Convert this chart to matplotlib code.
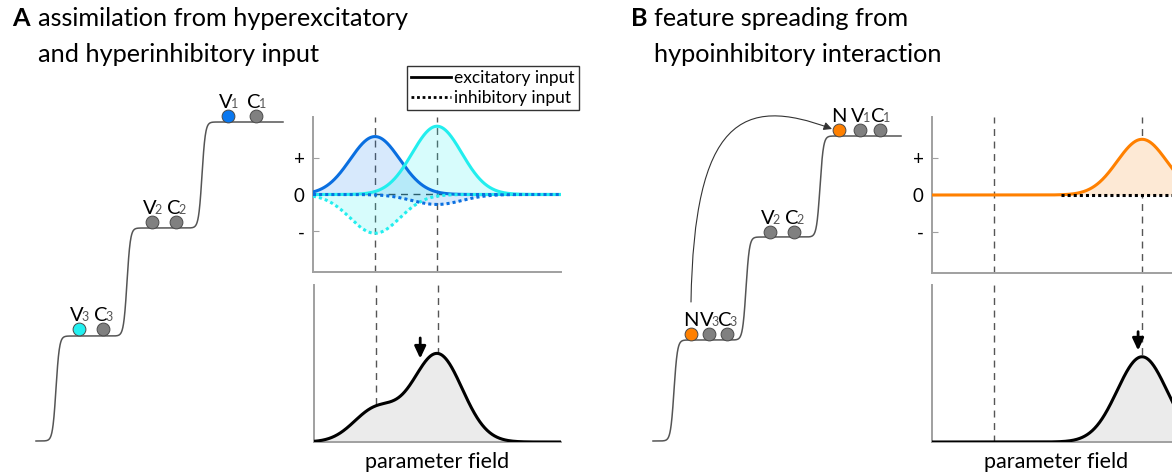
import numpy as np
import matplotlib

matplotlib.use("Agg")
import matplotlib.pyplot as plt
from matplotlib.lines import Line2D
from matplotlib.path import Path
from matplotlib.patches import FancyArrowPatch

plt.rcParams["font.family"] = ["Lato", "DejaVu Sans"]

W, H = 1172, 473

# ---- schematic data -------------------------------------------------------
# staircases (figure pixel units): start/end x, rise centres, plateau levels
stairA_x = [36, 283]
stairA_rise = [56, 127, 202]
stairA_level = [441, 336, 228, 122]
stairB_x = [653, 901]
stairB_rise = [674, 746, 820]
stairB_level = [441, 340, 237, 136]

# balls sitting on the plateaus: (x, y, colour, letter, subscript)
ballsA = [
    (228, 116, "#0a78f0", "V", "1"), (256, 116, "#808080", "C", "1"),
    (152, 222, "#808080", "V", "2"), (176, 222, "#808080", "C", "2"),
    (79, 329, "#22f0f0", "V", "3"), (103, 329, "#808080", "C", "3"),
]
ballsB = [
    (839, 130, "#ff8000", "N", ""), (860, 130, "#808080", "V", "1"),
    (880, 130, "#808080", "C", "1"),
    (770, 232, "#808080", "V", "2"), (794, 232, "#808080", "C", "2"),
    (691, 334, "#ff8000", "N", ""), (709, 334, "#808080", "V", "3"),
    (727, 334, "#808080", "C", "3"),
]

# parameter-field inputs (x in 0..1)
markA = [0.25, 0.5]
excA_centre = [0.25, 0.5]
excA_amp = [1.57, 1.85]
inhA_centre = [0.5, 0.25]
inhA_amp = [-0.27, -1.05]
outA_centre = [0.25, 0.5]
outA_amp = [0.36, 0.98]
outA_width = [0.09, 0.1]
arrowA = (0.43, 1.16, 0.93)

markB = [0.25, 0.847]
excB_centre = 0.847
excB_amp = 1.5
outB_centre = 0.847
outB_amp = 0.95
arrowB = (0.831, 1.23, 1.02)
sigma = 0.1

col_blue, fill_blue = "#0a6fe0", "#0a78f0"
col_cyan, fill_cyan = "#22eeee", "#22f0f0"
col_orange, fill_orange = "#ff8000", "#fde9d5"

fig = plt.figure(figsize=(W / 100, H / 100), dpi=100)


def px_axes(left, top, right, bottom, **kw):
    return fig.add_axes([left / W, 1 - bottom / H, (right - left) / W, (bottom - top) / H], **kw)


def gauss(x, c, a, s=sigma):
    return a * np.exp(-(x - c) ** 2 / (2 * s ** 2))


# ---- overlay for staircases ----------------------------------------------
ov = px_axes(0, 0, W, H, zorder=0)
ov.set_xlim(0, W)
ov.set_ylim(H, 0)
ov.axis("off")


def staircase(xr, rises, levels):
    xs = np.linspace(xr[0], xr[1], 1500)
    ys = np.full_like(xs, levels[0], dtype=float)
    for c, lo, hi in zip(rises, levels[:-1], levels[1:]):
        ys += (hi - lo) / (1 + np.exp(-(xs - c) / 1.7))
    ov.plot(xs, ys, color="#555555", lw=1.1)


def balls(items):
    for x, y, c, letter, sub in items:
        ov.scatter([x], [y], s=85, color=c, edgecolor="#4a4a4a", lw=0.7, zorder=3)
        dx = 0 if sub == "" else -2.5
        ov.text(x + dx, y - 8, letter, fontsize=14.5, ha="center", va="baseline", color="black")
        if sub:
            ov.text(x + 6.5, y - 8, sub, fontsize=9, ha="center", va="baseline", color="#555555")


staircase(stairA_x, stairA_rise, stairA_level)
staircase(stairB_x, stairB_rise, stairB_level)
balls(ballsA)
balls(ballsB)

jump = Path([(691, 302), (694, 120), (742, 95), (832, 129)],
            [Path.MOVETO, Path.CURVE4, Path.CURVE4, Path.CURVE4])
ov.add_patch(FancyArrowPatch(path=jump, arrowstyle="-|>", mutation_scale=12,
                             lw=0.8, color="#333333", zorder=4))

# ---- titles ---------------------------------------------------------------
tfs = 18.2
fig.text(12 / W, 1 - 19 / H, "A", fontsize=tfs, fontweight="bold", va="center")
fig.text(38 / W, 1 - 19 / H, "assimilation from hyperexcitatory", fontsize=tfs, va="center")
fig.text(38 / W, 1 - 54 / H, "and hyperinhibitory input", fontsize=tfs, va="center")
fig.text(631 / W, 1 - 19 / H, "B", fontsize=tfs, fontweight="bold", va="center")
fig.text(654 / W, 1 - 19 / H, "feature spreading from", fontsize=tfs, va="center")
fig.text(654 / W, 1 - 54 / H, "hypoinhibitory interaction", fontsize=tfs, va="center")


def style(ax, ticks):
    for s in ["top", "right"]:
        ax.spines[s].set_visible(False)
    for s in ["left", "bottom"]:
        ax.spines[s].set_color("#a0a0a0")
        ax.spines[s].set_linewidth(1.4)
    ax.set_xlim(0, 1)
    ax.set_xticks([])
    if ticks:
        ax.set_ylim(-2.1, 2.1)
        ax.set_yticks([-1, 0, 1])
        ax.set_yticklabels(["-", "0", "+"])
        ax.tick_params(axis="y", direction="in", length=4, color="#a0a0a0", labelsize=13.5, pad=6)
    else:
        ax.set_ylim(0, 1.75)
        ax.set_yticks([])


def down_arrow(ax, spec):
    xa, y0, y1 = spec
    ax.annotate("", xy=(xa, y1), xytext=(xa, y0),
                arrowprops=dict(arrowstyle="-|>,head_width=0.28,head_length=0.6",
                                color="black", lw=2, mutation_scale=12,
                                shrinkA=0, shrinkB=0))


x = np.linspace(0, 1, 600)

# ---- panel A: inputs ------------------------------------------------------
axA = px_axes(313, 117, 561, 272)
style(axA, True)
for m in markA:
    axA.axvline(m, color="#555555", lw=1, ls=(0, (5, 4)), zorder=1)
axA.axhline(0, color="#333333", lw=1, ls=(0, (5, 4)), zorder=1)
eb = gauss(x, excA_centre[0], excA_amp[0])
ec = gauss(x, excA_centre[1], excA_amp[1])
ib = gauss(x, inhA_centre[0], inhA_amp[0])
ic = gauss(x, inhA_centre[1], inhA_amp[1])
axA.fill_between(x, 0, eb, color=fill_blue, alpha=0.16, lw=0)
axA.fill_between(x, 0, ec, color=fill_cyan, alpha=0.18, lw=0)
axA.fill_between(x, 0, ib, color=fill_blue, alpha=0.16, lw=0)
axA.fill_between(x, 0, ic, color=fill_cyan, alpha=0.18, lw=0)
axA.plot(x, eb, color=col_blue, lw=2.2, zorder=3)
axA.plot(x, ec, color=col_cyan, lw=2.2, zorder=3)
axA.plot(x, ic, color=col_cyan, lw=2.2, ls=(0, (1, 1)), zorder=4)
axA.plot(x, ib, color=col_blue, lw=2.2, ls=(0, (1, 1)), zorder=4)

fig.legend(handles=[Line2D([], [], color="black", lw=2),
                    Line2D([], [], color="black", lw=2, ls=(0, (1, 1)))],
           labels=["excitatory input", "inhibitory input"],
           loc="upper left", bbox_to_anchor=(407 / W, 1 - 66 / H), borderaxespad=0,
           fontsize=12.5, handlelength=2.3, handletextpad=0.15, labelspacing=0.2,
           borderpad=0.25, fancybox=False, edgecolor="#333333", framealpha=1)

# ---- panel A: field -------------------------------------------------------
axA2 = px_axes(314, 285, 561, 442)
style(axA2, False)
for m in markA:
    axA2.axvline(m, color="#555555", lw=1, ls=(0, (5, 4)), zorder=1)
outA = sum(gauss(x, c, a, s) for c, a, s in zip(outA_centre, outA_amp, outA_width))
axA2.fill_between(x, 0, outA, color="#ebebeb", lw=0)
axA2.plot(x, outA, color="black", lw=2.2, zorder=3)
down_arrow(axA2, arrowA)
axA2.set_xlabel("parameter field", fontsize=15.5, labelpad=7)

# ---- panel B: inputs ------------------------------------------------------
axB = px_axes(932, 117, 1180, 273)
style(axB, True)
for m in markB:
    axB.axvline(m, color="#555555", lw=1, ls=(0, (5, 4)), zorder=1)
eo = gauss(x, excB_centre, excB_amp)
axB.fill_between(x, 0, eo, color=fill_orange, lw=0)
axB.plot(x, eo, color=col_orange, lw=2.2, zorder=3)
xd = x[x >= 0.52]
axB.plot(xd, np.zeros_like(xd), color="black", lw=2.2, ls=(0, (1, 1)), zorder=4)

# ---- panel B: field -------------------------------------------------------
axB2 = px_axes(932, 285, 1180, 442)
style(axB2, False)
for m in markB:
    axB2.axvline(m, color="#555555", lw=1, ls=(0, (5, 4)), zorder=1)
outB = gauss(x, outB_centre, outB_amp)
axB2.fill_between(x, 0, outB, color="#ebebeb", lw=0)
axB2.plot(x, outB, color="black", lw=2.2, zorder=3)
down_arrow(axB2, arrowB)
axB2.set_xlabel("parameter field", fontsize=15.5, labelpad=7)

fig.savefig("out.png", dpi=100)
